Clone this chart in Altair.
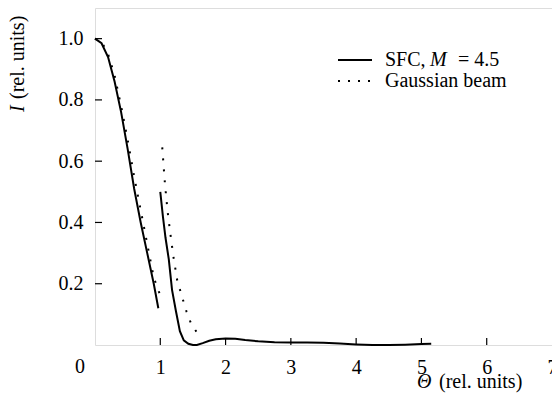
import altair as alt
import pandas as pd

# SFC, M = 4.5 (solid) — two segments
sfc1_x = [0.0, 0.1, 0.2, 0.3, 0.4, 0.5, 0.6, 0.7, 0.8, 0.9, 0.97]
sfc1_y = [1.0, 0.985, 0.94, 0.86, 0.76, 0.64, 0.51, 0.40, 0.30, 0.20, 0.12]
sfc2_x = [1.0, 1.04, 1.08, 1.13, 1.18, 1.24, 1.30, 1.36, 1.43, 1.5, 1.56, 1.65, 1.75, 1.85, 2.0,
          2.15, 2.3, 2.5, 2.75, 3.0, 3.25, 3.5, 3.75, 4.0, 4.25, 4.5, 4.75, 5.0, 5.15]
sfc2_y = [0.50, 0.42, 0.35, 0.28, 0.18, 0.11, 0.045, 0.015, 0.004, 0.0, 0.0, 0.006, 0.014, 0.019, 0.021,
          0.02, 0.016, 0.012, 0.009, 0.008, 0.008, 0.007, 0.005, 0.002, 0.0, 0.0, 0.001, 0.003, 0.004]

# Gaussian beam (dotted) — two segments
gau1_x = [0.0, 0.1, 0.2, 0.3, 0.4, 0.5, 0.6, 0.7, 0.8, 0.9, 1.02]
gau1_y = [1.0, 0.99, 0.95, 0.88, 0.78, 0.67, 0.55, 0.44, 0.33, 0.22, 0.15]
gau2_x = [1.03, 1.07, 1.11, 1.15, 1.20, 1.26, 1.33, 1.40, 1.48, 1.60]
gau2_y = [0.645, 0.53, 0.44, 0.37, 0.29, 0.21, 0.16, 0.11, 0.065, 0.03]

x_ticks = [1, 2, 3, 4, 5, 6, 7]
y_ticks = [0.2, 0.4, 0.6, 0.8, 1.0]

FONT = "Liberation Serif, Times New Roman, DejaVu Serif, serif"
FS = 20
W, H = 457, 337

def seg(xs, ys, name):
    return pd.DataFrame({"x": xs, "y": ys, "seg": name})

sfc = pd.concat([seg(sfc1_x, sfc1_y, "a"), seg(sfc2_x, sfc2_y, "b")])
gau = pd.concat([seg(gau1_x, gau1_y, "a"), seg(gau2_x, gau2_y, "b")])

xs = alt.Scale(domain=[0, 7], nice=False)
ys = alt.Scale(domain=[0, 1.1], nice=False)

xaxis = alt.Axis(values=x_ticks, title=None, grid=False, tickSize=0, domain=False, format="d",
                 labelFont=FONT, labelFontSize=FS, labelPadding=12, labelColor="black",
                 labelFlush=False)
yaxis = alt.Axis(values=y_ticks, title=None, grid=False, tickSize=0, domain=False, format=".1f",
                 labelFont=FONT, labelFontSize=FS, labelPadding=12, labelColor="black")

solid = alt.Chart(sfc).mark_line(color="black", strokeWidth=2).encode(
    x=alt.X("x:Q", scale=xs, axis=xaxis), y=alt.Y("y:Q", scale=ys, axis=yaxis),
    detail="seg:N", order="x:Q")
dotted = alt.Chart(gau).mark_line(color="black", strokeWidth=2, strokeDash=[2, 9]).encode(
    x=alt.X("x:Q", scale=xs, axis=xaxis), y=alt.Y("y:Q", scale=ys, axis=yaxis),
    detail="seg:N", order="x:Q")

xt = alt.Chart(pd.DataFrame({"t": x_ticks[:-1]})).mark_rule(color="black", strokeWidth=1.2).encode(
    x=alt.X("t:Q", scale=xs, axis=xaxis), y=alt.value(H), y2=alt.value(H - 7))
yt = alt.Chart(pd.DataFrame({"t": y_ticks})).mark_rule(color="black", strokeWidth=1.2).encode(
    y=alt.Y("t:Q", scale=ys, axis=yaxis), x=alt.value(0), x2=alt.value(7))

def txt(s, x, y, italic=False, align="left", angle=None):
    kw = dict(font=FONT, fontSize=FS, color="black", align=align, baseline="middle",
              fontStyle="italic" if italic else "normal")
    if angle is not None:
        kw["angle"] = angle
    return alt.Chart(pd.DataFrame({"s": [s]})).mark_text(**kw).encode(
        text="s:N", x=alt.value(x), y=alt.value(y))

zero = txt("0", -15, 359, align="center")

# y title (rotated)
yt1 = txt("I", -77, 104, italic=True, angle=270)
yt2 = txt("(rel. units)", -77, 91, angle=270)

# x title
xt1 = txt("Θ", 322, 374, italic=True)
xt2 = txt("(rel. units)", 344, 374)

# legend
leg_solid = alt.Chart(pd.DataFrame({"a": [0]})).mark_rule(color="black", strokeWidth=2).encode(
    x=alt.value(243), x2=alt.value(277), y=alt.value(52))
leg_dot = alt.Chart(pd.DataFrame({"a": [0]})).mark_rule(color="black", strokeWidth=2, strokeDash=[2, 8]).encode(
    x=alt.value(243), x2=alt.value(277), y=alt.value(73))
l1 = txt("SFC,", 290, 52)
l2 = txt("M", 335, 52, italic=True)
l3 = txt("= 4.5", 363, 52)
l4 = txt("Gaussian beam", 290, 73)

chart = alt.layer(
    solid, dotted, xt, yt, zero, yt1, yt2, xt1, xt2, leg_solid, leg_dot, l1, l2, l3, l4
).properties(
    width=W, height=H,
    autosize=alt.AutoSizeParams(type="none"),
    padding={"left": 87, "top": 0, "right": 0, "bottom": 50},
).configure_view(
    stroke="black", strokeWidth=1.5
).configure(background="white")

chart.save("out.html", embed_options={"renderer": "svg", "actions": False})
